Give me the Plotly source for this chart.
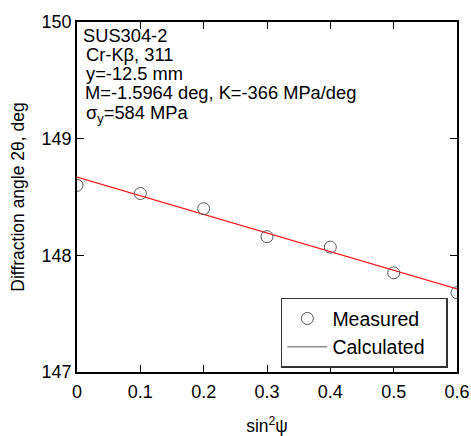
import plotly.graph_objects as go

sin2psi = [0.0, 0.1, 0.2, 0.3, 0.4, 0.5, 0.6]
two_theta = [148.60, 148.53, 148.40, 148.16, 148.07, 147.85, 147.68]
fit_x = [0.0, 0.6]
intercept = 148.67
slope_M = -1.5964
fit_y = [intercept + slope_M * x for x in fit_x]

x_ticks = [0, 0.1, 0.2, 0.3, 0.4, 0.5, 0.6]
x_ticklabels = ["0", "0.1", "0.2", "0.3", "0.4", "0.5", "0.6"]
y_ticks = [147, 148, 149, 150]

info_lines = [
    "SUS304-2",
    "Cr-Kβ, 311",
    "y=-12.5 mm",
    "M=-1.5964 deg, K=-366 MPa/deg",
    "σ<sub>y</sub>=584 MPa",
]

FONT = "Liberation Sans, Arial, Helvetica, sans-serif"
PAD = "\u00a0" * 3

fig = go.Figure()
fig.add_trace(go.Scatter(
    x=fit_x, y=fit_y, mode="lines",
    line=dict(color="#ff1a1a", width=1.2),
    showlegend=False, hoverinfo="skip"))
fig.add_trace(go.Scatter(
    x=sin2psi, y=two_theta, mode="markers", name="Measured" + PAD,
    marker=dict(symbol="circle-open", size=12, color="#555555", line=dict(width=1))))
fig.add_trace(go.Scatter(
    x=[None], y=[None], mode="lines", name="Calculated" + PAD,
    line=dict(color="#555555", width=1)))

axis_common = dict(
    showline=True, linecolor="black", linewidth=1.5, mirror="allticks",
    ticks="inside", ticklen=7, tickcolor="black", tickwidth=1,
    showgrid=False, zeroline=False, automargin=False,
    tickfont=dict(family=FONT, size=18, color="black"),
)

fig.update_xaxes(range=[0, 0.6], tickvals=x_ticks, ticktext=x_ticklabels,
                 ticklabelstandoff=3,
                 title=dict(text="sin<sup>2</sup>ψ", font=dict(family=FONT, size=17.5, color="black"),
                            standoff=20),
                 **axis_common)
fig.update_yaxes(range=[147, 150], tickvals=y_ticks,
                 title=dict(text="Diffraction angle 2θ, deg", font=dict(family=FONT, size=17.5, color="black"),
                            standoff=12),
                 **axis_common)

# info text block, one annotation per line for tight line spacing
line_y_px = [35.5, 54.5, 73.5, 92.5, 114.5]
line_x_px = [81, 83.5, 83.5, 82.5, 83.5]
plot_left, plot_w = 77, 380
plot_top, plot_h = 22, 350
for txt, xpx, ypx in zip(info_lines, line_x_px, line_y_px):
    fig.add_annotation(
        x=(xpx - plot_left) / plot_w, y=1 - (ypx - plot_top) / plot_h,
        xref="paper", yref="paper",
        xanchor="left", yanchor="middle",
        text=txt, showarrow=False, align="left",
        font=dict(family=FONT, size=18.3, color="black"))

fig.update_layout(
    width=471, height=436,
    margin=dict(l=77, r=14, t=22, b=64),
    paper_bgcolor="white", plot_bgcolor="white",
    font=dict(family=FONT, size=16, color="black"),
    legend=dict(x=0.976, y=0.012, xanchor="right", yanchor="bottom",
                bgcolor="white", bordercolor="#333333", borderwidth=1.5,
                font=dict(family=FONT, size=19.5, color="black"),
                itemwidth=40, tracegroupgap=0),
)

fig.write_html("out.html")
